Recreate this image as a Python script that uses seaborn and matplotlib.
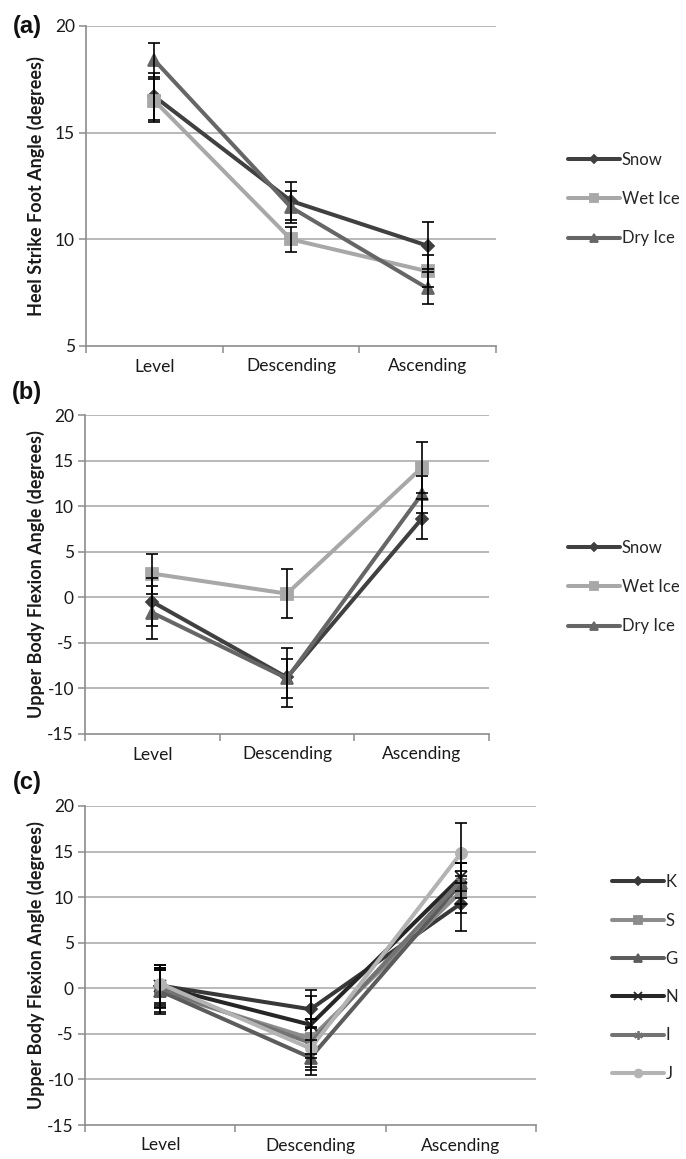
import matplotlib
matplotlib.use("Agg")
import matplotlib.pyplot as plt
import seaborn as sns
import numpy as np

# ---------------- data ----------------
categories = ["Level", "Descending", "Ascending"]

# panel (a) Heel strike foot angle
a_names = ["Snow", "Wet Ice", "Dry Ice"]
a_snow = [16.7, 11.8, 9.7]
a_snow_err = [1.1, 0.9, 1.1]
a_wet = [16.5, 10.0, 8.5]
a_wet_err = [1.0, 0.6, 0.75]
a_dry = [18.4, 11.5, 7.7]
a_dry_err = [0.8, 0.75, 0.75]

# panel (b) Upper body flexion angle by surface
b_names = ["Snow", "Wet Ice", "Dry Ice"]
b_snow = [-0.5, -8.8, 8.6]
b_snow_err = [2.6, 3.2, 2.2]
b_wet = [2.6, 0.4, 14.2]
b_wet_err = [2.2, 2.7, 2.8]
b_dry = [-1.7, -8.9, 11.3]
b_dry_err = [2.9, 2.1, 2.0]

# panel (c) Upper body flexion angle by subject
c_names = ["K", "S", "G", "N", "I", "J"]
c_K = [0.3, -2.3, 9.3]
c_K_err = [2.3, 2.1, 3.0]
c_S = [-0.4, -5.5, 10.6]
c_S_err = [2.4, 2.1, 2.3]
c_G = [-0.3, -7.6, 11.5]
c_G_err = [2.3, 1.9, 2.2]
c_N = [0.2, -4.0, 12.2]
c_N_err = [2.0, 3.2, 1.5]
c_I = [0.0, -6.0, 11.8]
c_I_err = [2.2, 2.6, 1.9]
c_J = [0.5, -6.6, 14.8]
c_J_err = [2.1, 2.4, 3.3]

# ---------------- style ----------------
sns.set_theme(style="white")
plt.rcParams["font.family"] = ["Lato", "DejaVu Sans"]

W, H = 686, 1159
fig = plt.figure(figsize=(W / 100, H / 100), dpi=100)

def fr(x0, y0, x1, y1):
    return [x0 / W, 1 - y1 / H, (x1 - x0) / W, (y1 - y0) / H]

surf_colors = ["#404040", "#a8a8a8", "#666666"]
surf_markers = ["D", "s", "^"]
surf_msize = [6.5, 8, 8.5]

subj_colors = ["#383838", "#8c8c8c", "#5c5c5c", "#262626", "#737373", "#b3b3b3"]
subj_markers = ["D", "s", "^", "x", (6, 2, 0), "o"]
subj_msize = [6.5, 7.5, 8, 8, 9, 8]

GRID = "#a6a6a6"
SPINE = "#8c8c8c"
pos = np.arange(len(categories))


def style_axis(ax, ylim, yticks, ylabel):
    ax.set_xlim(-0.5, 2.5)
    ax.set_ylim(*ylim)
    ax.set_yticks(yticks)
    ax.set_yticklabels([str(t) for t in yticks])
    ax.set_xticks(pos)
    ax.set_xticklabels(categories)
    ax.set_xticks([-0.5, 0.5, 1.5, 2.5], minor=True)
    ax.tick_params(axis="x", which="major", length=0, pad=9, labelsize=12.5,
                   colors="#1a1a1a")
    ax.tick_params(axis="x", which="minor", length=5, width=1.1, color=SPINE,
                   direction="out", bottom=True)
    ax.tick_params(axis="y", which="major", length=5, width=1.1, color=SPINE,
                   direction="out", left=True, pad=3, labelsize=12.5,
                   labelcolor="#1a1a1a")
    for s in ["top", "right"]:
        ax.spines[s].set_visible(False)
    for s in ["left", "bottom"]:
        ax.spines[s].set_color(SPINE)
        ax.spines[s].set_linewidth(1.2)
    for t in yticks[1:]:
        ax.axhline(t, color=GRID, lw=1.1, zorder=0)
    ax.set_ylabel(ylabel, fontsize=13, fontweight="bold", color="#1a1a1a")
    ax.set_xlabel("")


def draw_series(ax, names, vals, errs, colors, markers, msizes):
    for name, v, e, c, m, ms in zip(names, vals, errs, colors, markers, msizes):
        sns.lineplot(x=pos, y=v, ax=ax, color=c, marker=m, markersize=ms,
                     markeredgecolor=c, markeredgewidth=1.3, linewidth=2.9,
                     label=name, zorder=3)
        ax.errorbar(pos, v, yerr=e, fmt="none", ecolor="black",
                    elinewidth=1.2, capsize=4.6, capthick=1.2, zorder=5)
    h, l = ax.get_legend_handles_labels()
    ax.get_legend().remove()
    return h, l


def put_legend(ax, h, l, x_left, y_center, fs, spacing):
    ax.legend(h, l, loc="center left",
              bbox_to_anchor=(x_left / W, 1 - y_center / H),
              bbox_transform=fig.transFigure, frameon=False,
              fontsize=fs, handlelength=52 / (fs * 100 / 72),
              handletextpad=0.1, labelspacing=spacing, borderpad=0,
              borderaxespad=0, markerscale=0.7)


# ---------------- panel (a) ----------------
ax1 = fig.add_axes(fr(86, 26, 496, 346))
h, l = draw_series(ax1, a_names, [a_snow, a_wet, a_dry],
                   [a_snow_err, a_wet_err, a_dry_err],
                   surf_colors, surf_markers, surf_msize)
style_axis(ax1, (5, 20), [5, 10, 15, 20], "Heel Strike Foot Angle (degrees)")
ax1.yaxis.set_label_coords((45 - 86) / 410, 0.5)
put_legend(ax1, h, l, 568, 199, 12, 1.4)

# ---------------- panel (b) ----------------
ax2 = fig.add_axes(fr(85, 415, 489, 734))
h, l = draw_series(ax2, b_names, [b_snow, b_wet, b_dry],
                   [b_snow_err, b_wet_err, b_dry_err],
                   surf_colors, surf_markers, surf_msize)
style_axis(ax2, (-15, 20), [-15, -10, -5, 0, 5, 10, 15, 20],
           "Upper Body Flexion Angle (degrees)")
ax2.yaxis.set_label_coords((45 - 85) / 404, 0.5)
put_legend(ax2, h, l, 568, 587, 12, 1.4)

# ---------------- panel (c) ----------------
ax3 = fig.add_axes(fr(85, 806, 536, 1125))
h, l = draw_series(ax3, c_names, [c_K, c_S, c_G, c_N, c_I, c_J],
                   [c_K_err, c_S_err, c_G_err, c_N_err, c_I_err, c_J_err],
                   subj_colors, subj_markers, subj_msize)
style_axis(ax3, (-15, 20), [-15, -10, -5, 0, 5, 10, 15, 20],
           "Upper Body Flexion Angle (degrees)")
ax3.yaxis.set_label_coords((45 - 85) / 451, 0.5)
put_legend(ax3, h, l, 612, 978, 12, 1.34)

# panel letters
for txt, yc in [("(a)", 26), ("(b)", 392), ("(c)", 783)]:
    fig.text(27 / W, 1 - yc / H, txt, fontsize=17, fontweight="bold",
             family=["Liberation Sans", "DejaVu Sans"], ha="center",
             va="center", color="#111111")

fig.savefig("out.png", dpi=100)
